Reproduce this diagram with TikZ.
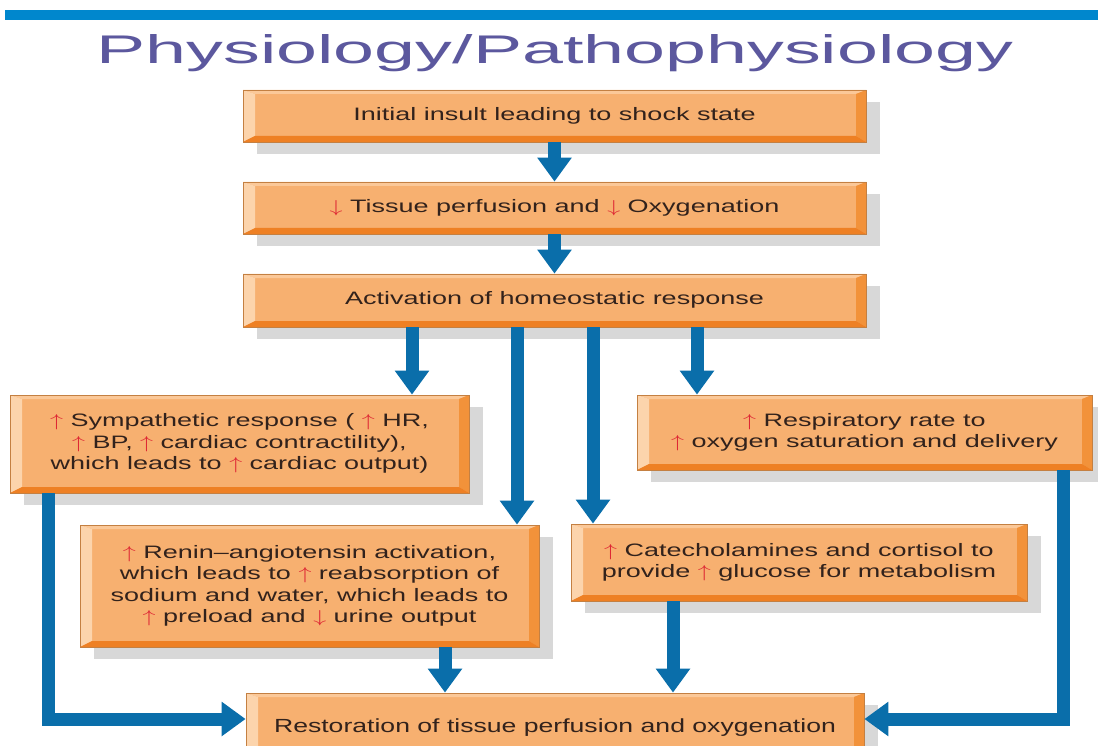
\documentclass[tikz,border=0pt]{standalone}
\usepackage{graphicx}
\usepackage{fontspec}
\setmainfont{Liberation Sans}
\usetikzlibrary{arrows.meta,calc,backgrounds}
\definecolor{barblue}{RGB}{0,135,205}
\definecolor{conblue}{RGB}{10,110,170}
\definecolor{titlec}{RGB}{92,88,158}
\definecolor{face}{RGB}{247,176,112}
\definecolor{bevtop}{RGB}{251,200,152}
\definecolor{bevleft}{RGB}{252,212,172}
\definecolor{bevright}{RGB}{242,146,58}
\definecolor{bevbot}{RGB}{238,128,36}
\definecolor{edgec}{RGB}{196,128,66}
\definecolor{shadowc}{RGB}{216,216,216}
\definecolor{txtc}{RGB}{50,34,28}
\definecolor{redar}{RGB}{222,40,52}
\newcommand{\upar}{{\color{redar}\(\uparrow\)}}
\newcommand{\dnar}{{\color{redar}\(\downarrow\)}}
\newcommand{\boxtext}[1]{\scalebox{1.5}[1]{\fontsize{18}{21.5}\selectfont\begin{tabular}{@{}c@{}}#1\end{tabular}}}
\newcommand{\lasttext}[1]{\scalebox{1.4}[1]{\fontsize{19}{22}\selectfont #1}}
\tikzset{
  obox/.style={rectangle, inner sep=0pt, fill=face, draw=edgec, line width=0.8pt, text=txtc,
    path picture={
      \coordinate (pNW) at (path picture bounding box.north west);
      \coordinate (pNE) at (path picture bounding box.north east);
      \coordinate (pSW) at (path picture bounding box.south west);
      \coordinate (pSE) at (path picture bounding box.south east);
      \fill[bevtop] (pNW) -- (pNE) -- ($(pNE)+(-10,4)$) -- ($(pNW)+(12,4)$) -- cycle;
      \fill[bevleft] (pNW) -- ($(pNW)+(12,4)$) -- ($(pSW)+(12,-6)$) -- (pSW) -- cycle;
      \fill[bevright] (pNE) -- (pSE) -- ($(pSE)+(-10,-6)$) -- ($(pNE)+(-10,4)$) -- cycle;
      \fill[bevbot] (pSW) -- (pSE) -- ($(pSE)+(-10,-6)$) -- ($(pSW)+(12,-6)$) -- cycle;
    }},
  shadowbox/.style={fill=shadowc},
  con/.style={draw=conblue, line width=13pt, line join=miter, -{Triangle[width=33pt,length=24pt]}}
}
\begin{document}
\begin{tikzpicture}[x=1pt,y=-1pt]
\useasboundingbox (0,0) rectangle (1098,746);
\clip (0,0) rectangle (1098,746);
\fill[barblue] (5,10) rectangle (1098,20);
\node[anchor=base, text=titlec, inner sep=0pt] (T) at (555,64)
  {\scalebox{1.84}[1]{\fontsize{40}{42}\selectfont Physiology/Pathophysiology}};

\node[obox, minimum width=623pt, minimum height=52pt] (B1) at (554.5,116)
  {\boxtext{Initial insult leading to shock state}};
\node[obox, minimum width=623pt, minimum height=52pt] (B2) at (554.5,208)
  {\boxtext{\dnar{} Tissue perfusion and \dnar{} Oxygenation}};
\node[obox, minimum width=623pt, minimum height=53pt] (B3) at (554.5,300.5)
  {\boxtext{Activation of homeostatic response}};
\node[obox, minimum width=459pt, minimum height=98pt] (B4) at (239.5,444)
  {\boxtext{\upar{} Sympathetic response ( \upar{} HR,\\ \upar{} BP, \upar{} cardiac contractility),\\ which leads to \upar{} cardiac output)}};
\node[obox, minimum width=455pt, minimum height=75pt] (B5) at (864.5,432.5)
  {\boxtext{\upar{} Respiratory rate to\\ \upar{} oxygen saturation and delivery}};
\node[obox, minimum width=459pt, minimum height=122pt] (B6) at (309.5,586)
  {\boxtext{\upar{} Renin–angiotensin activation,\\ which leads to \upar{} reabsorption of\\ sodium and water, which leads to\\ \upar{} preload and \dnar{} urine output}};
\node[obox, minimum width=456pt, minimum height=77pt] (B7) at (799,562.5)
  {\boxtext{\upar{} Catecholamines and cortisol to\\ provide \upar{} glucose for metabolism}};
\node[obox, minimum width=618pt, minimum height=70pt] (B8) at (555,728)
  {\lasttext{Restoration of tissue perfusion and oxygenation}};

\begin{scope}[on background layer]
  \fill[white] (0,0) rectangle (1098,746);
  \foreach \n in {B1,B2,B3,B4,B5,B6,B7,B8}
    \fill[shadowbox] ($(\n.north west)+(14,12)$) rectangle ($(\n.south east)+(14,12)$);
\end{scope}

\draw[con] (B1.south) -- (B2.north);
\draw[con] (B2.south) -- (B3.north);
\draw[con] (412,0 |- B3.south) -- (412,0 |- B4.north);
\draw[con] (517,0 |- B3.south) -- (517,0 |- B6.north);
\draw[con] (593,0 |- B3.south) -- (593,0 |- B7.north);
\draw[con] (697,0 |- B3.south) -- (697,0 |- B5.north);
\draw[con] (48,0 |- B4.south) |- (B8.west |- 0,719);
\draw[con] (1063,0 |- B5.south) |- (B8.east |- 0,719);
\draw[con] (445,0 |- B6.south) -- (445,0 |- B8.north);
\draw[con] (673,0 |- B7.south) -- (673,0 |- B8.north);
\end{tikzpicture}
\end{document}
